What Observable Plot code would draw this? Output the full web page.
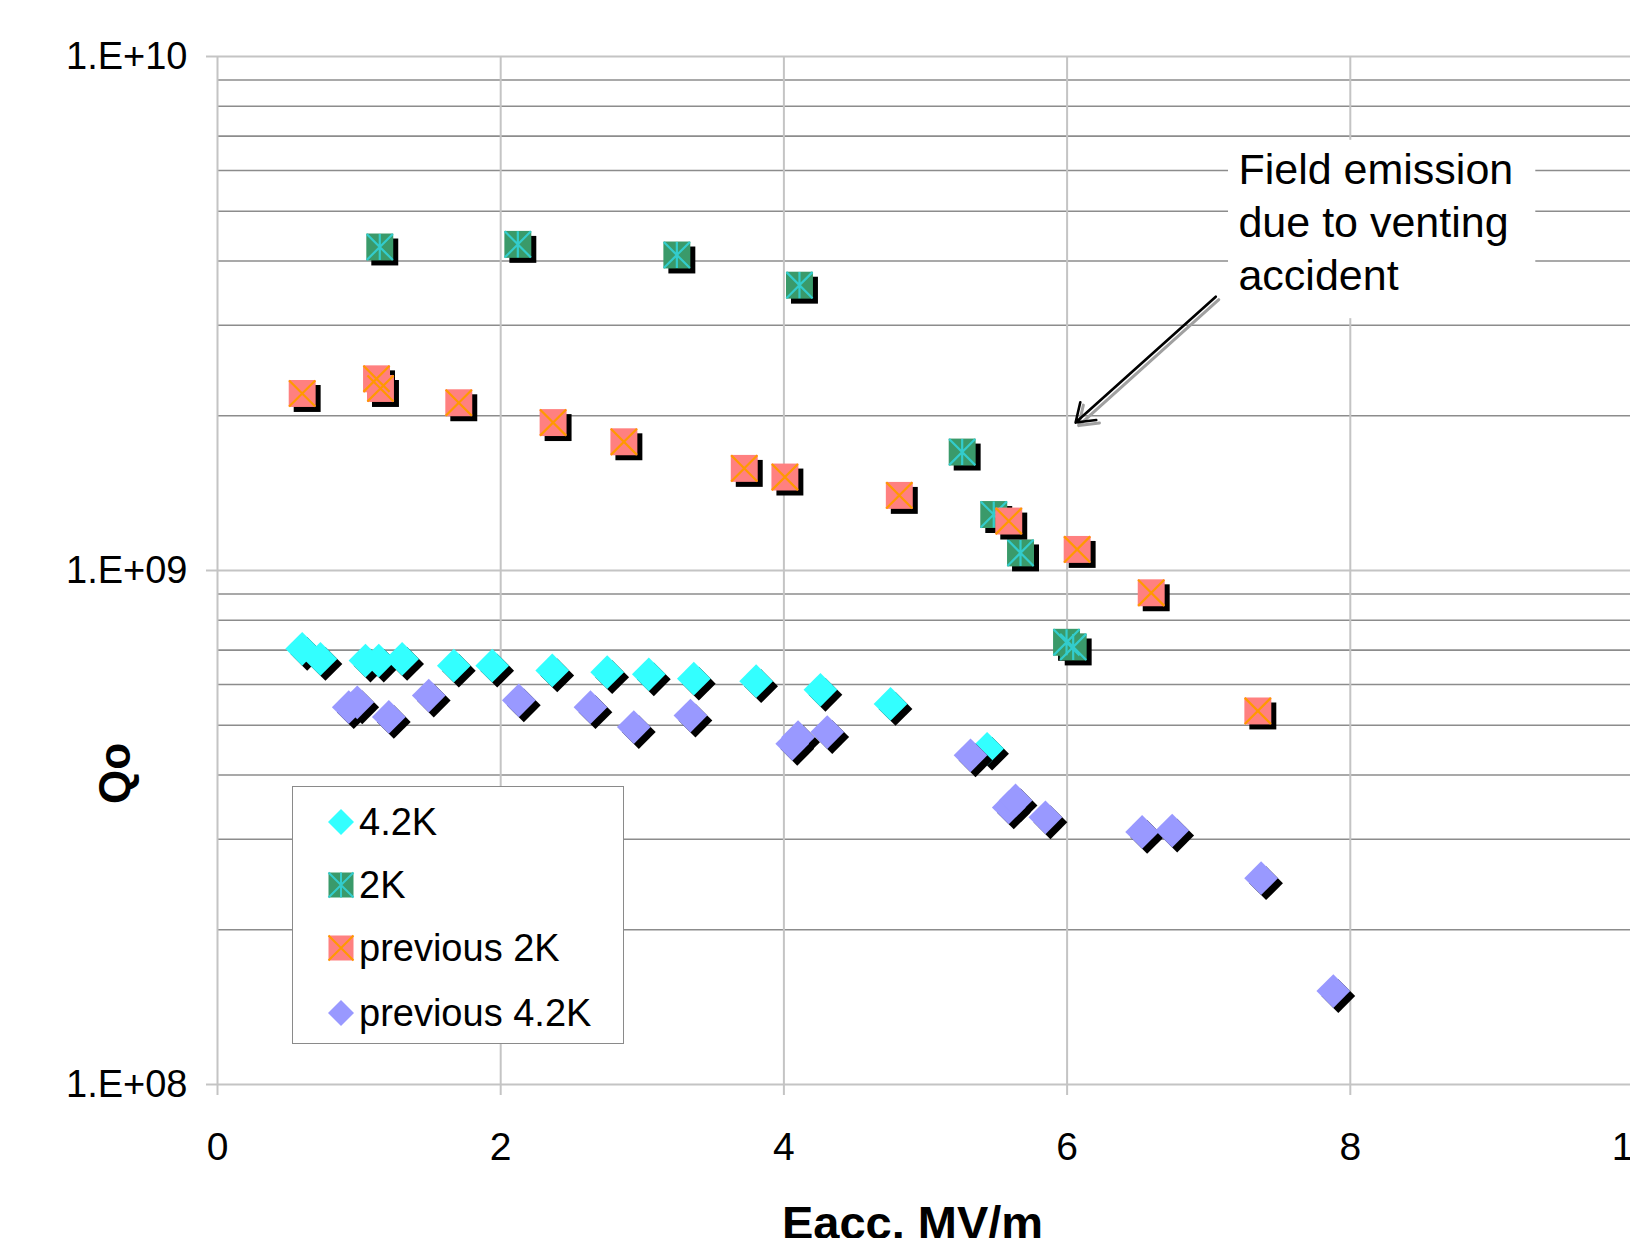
<!DOCTYPE html>
<html>
<head>
<meta charset="utf-8">
<script src="https://cdn.jsdelivr.net/npm/d3@7"></script>
<script src="https://cdn.jsdelivr.net/npm/@observablehq/plot@0.6"></script>
<style>
  html, body { margin: 0; padding: 0; background: white; overflow: hidden; }
  #wrap { position: relative; width: 1630px; height: 1238px; font-family: "Liberation Sans", Arial, sans-serif; }
  #legend { position: absolute; left: 292px; top: 786px; width: 330px; height: 256px; background: white; border: 1.5px solid #8a8a8a; }
  .row { position: absolute; left: 0; height: 40px; display: flex; align-items: center; font-size: 38px; color: #000; }
  .row svg { margin-left: 34px; margin-right: 4px; }
</style>
</head>
<body>
<div id="wrap">
  <div id="chart"></div>
  <div id="legend"></div>
</div>
<script>
// ---- data ----
const seriesNames = ["4.2K", "2K", "previous 2K", "previous 4.2K"];

const x42K = [0.598, 0.727, 1.045, 1.139, 1.304, 1.669, 1.94, 2.364, 2.752, 3.046, 3.364, 3.804, 4.258, 4.753, 5.435];
const q42K = [7.04e8, 6.73e8, 6.68e8, 6.68e8, 6.73e8, 6.53e8, 6.53e8, 6.39e8, 6.34e8, 6.28e8, 6.16e8, 6.09e8, 5.86e8, 5.50e8, 4.50e8];

const x2K = [1.146, 2.121, 3.244, 4.11, 5.259, 5.482, 5.671, 5.996, 6.043];
const q2K = [4.26e9, 4.31e9, 4.11e9, 3.59e9, 1.70e9, 1.285e9, 1.082e9, 7.25e8, 7.10e8];

const xPrev2K = [0.598, 1.123, 1.151, 1.704, 2.37, 2.87, 3.72, 4.007, 4.815, 5.588, 6.071, 6.594, 7.347];
const qPrev2K = [2.21e9, 2.36e9, 2.26e9, 2.12e9, 1.94e9, 1.78e9, 1.58e9, 1.52e9, 1.40e9, 1.248e9, 1.099e9, 9.05e8, 5.33e8];

const xPrev42K = [0.927, 0.987, 1.21, 1.492, 2.128, 2.634, 2.94, 3.34, 4.059, 4.10, 4.306, 5.318, 5.588, 5.636, 5.847, 6.53, 6.742, 7.37, 7.88];
const qPrev42K = [5.42e8, 5.54e8, 5.19e8, 5.71e8, 5.59e8, 5.42e8, 4.96e8, 5.22e8, 4.60e8, 4.74e8, 4.85e8, 4.37e8, 3.46e8, 3.57e8, 3.31e8, 3.10e8, 3.12e8, 2.52e8, 1.52e8];

const xTicks = [0, 2, 4, 6, 8, 10];
const yMajor = [1e8, 1e9, 1e10];
const yMinor = [2e8, 3e8, 4e8, 5e8, 6e8, 7e8, 8e8, 9e8, 2e9, 3e9, 4e9, 5e9, 6e9, 7e9, 8e9, 9e9];

const annoText = ["Field emission\ndue to venting\naccident"];
const annoBox = [{x1: 7.14, x2: 9.31, y1: 3.09e9, y2: 6.87e9}];
const annoTextPos = [{x: 7.21, y: 6.7e9}];
const annoArrow = [{x1: 7.05, y1: 3.41e9, x2: 6.06, y2: 1.94e9}];

// ---- helpers ----
const toRows = (xs, qs) => xs.map((x, i) => ({x, q: qs[i]}));
const d42K = toRows(x42K, q42K);
const d2K = toRows(x2K, q2K);
const dPrev2K = toRows(xPrev2K, qPrev2K);
const dPrev42K = toRows(xPrev42K, qPrev42K);

const symStar = {
  draw(ctx, size) {
    const s = Math.sqrt(size) / 2;
    ctx.moveTo(-s, -s); ctx.lineTo(s, s);
    ctx.moveTo(s, -s); ctx.lineTo(-s, s);
    ctx.moveTo(0, -s); ctx.lineTo(0, s);
  }
};
const symX = {
  draw(ctx, size) {
    const s = Math.sqrt(size) / 2;
    ctx.moveTo(-s, -s); ctx.lineTo(s, s);
    ctx.moveTo(s, -s); ctx.lineTo(-s, s);
  }
};

const C = {
  cyan: "#33ffff", green: "#3a9a6a", greenLine: "#33cccc",
  salmon: "#ff8080", orange: "#ff9900", lavender: "#9999ff"
};
const rD = 15.2, rS = 15.2, off = 5;

function diamondSeries(data, fill) {
  return [
    Plot.dot(data, {x: "x", y: "q", symbol: "diamond2", r: rD, fill: "black", dx: off, dy: off}),
    Plot.dot(data, {x: "x", y: "q", symbol: "diamond2", r: rD, fill})
  ];
}
function squareSeries(data, fill, lineColor, sym) {
  return [
    Plot.dot(data, {x: "x", y: "q", symbol: "square", r: rS, fill: "black", dx: off, dy: off}),
    Plot.dot(data, {x: "x", y: "q", symbol: "square", r: rS, fill}),
    Plot.dot(data, {x: "x", y: "q", symbol: sym, r: rS * 0.97, fill: "none", stroke: lineColor, strokeWidth: 2.2})
  ];
}

const fmtY = d => "1.E+" + String(Math.round(Math.log10(d))).padStart(2, "0");

const chart = Plot.plot({
  width: 1630,
  height: 1238,
  marginLeft: 217,
  marginTop: 56,
  marginBottom: 154,
  marginRight: 0,
  style: {fontFamily: "'Liberation Sans', Arial, sans-serif", background: "white", overflow: "hidden"},
  x: {type: "linear", domain: [0, 10], range: [217, 1633]},
  y: {type: "log", domain: [1e8, 1e10], range: [1084, 56]},
  marks: [
    Plot.ruleY(yMinor, {stroke: "#8c8c8c", strokeWidth: 1.6}),
    Plot.ruleY(yMajor, {stroke: "#c4c4c4", strokeWidth: 2}),
    Plot.ruleX(xTicks, {stroke: "#c4c4c4", strokeWidth: 2}),
    Plot.axisY({ticks: yMajor, tickFormat: fmtY, tickSize: 11, tickPadding: 19, fontSize: 38, stroke: "#c4c4c4", strokeWidth: 2, fill: "black", label: null}),
    Plot.axisX({ticks: xTicks, tickFormat: d => String(d), tickSize: 11, tickPadding: 37, fontSize: 39, stroke: "#c4c4c4", strokeWidth: 2, fill: "black", label: null}),
    // annotation box, text and arrow
    Plot.rect(annoBox, {x1: "x1", x2: "x2", y1: "y1", y2: "y2", fill: "white"}),
    Plot.text(annoTextPos, {x: "x", y: "y", text: () => annoText[0], textAnchor: "start", lineAnchor: "top", lineHeight: 1.24, fontSize: 43, fill: "black"}),
    Plot.arrow(annoArrow, {x1: "x1", y1: "y1", x2: "x2", y2: "y2", stroke: "#a0a0a0", strokeWidth: 3, headLength: 10.5, headAngle: 70, dx: 3, dy: 3}),
    Plot.arrow(annoArrow, {x1: "x1", y1: "y1", x2: "x2", y2: "y2", stroke: "black", strokeWidth: 2.6, headLength: 12, headAngle: 70}),
    // series in legend order
    ...diamondSeries(d42K, C.cyan),
    ...squareSeries(d2K, C.green, C.greenLine, symStar),
    ...squareSeries(dPrev2K, C.salmon, C.orange, symX),
    ...diamondSeries(dPrev42K, C.lavender),
    // axis titles
    Plot.text(["Qo"], {frameAnchor: "top-left", dx: -102, dy: 717, rotate: -90, textAnchor: "middle", lineAnchor: "middle", fontSize: 44, fontWeight: "bold", fill: "black"}),
    Plot.text(["Eacc. MV/m"], {frameAnchor: "top-left", dx: 695, dy: 1167, textAnchor: "middle", lineAnchor: "middle", fontSize: 47, fontWeight: "bold", fill: "black"})
  ]
});
document.getElementById("chart").appendChild(chart);

// ---- legend (HTML overlay) ----
const legendItems = [
  {name: seriesNames[0], kind: "diamond", fill: C.cyan},
  {name: seriesNames[1], kind: "square", fill: C.green, line: C.greenLine, star: true},
  {name: seriesNames[2], kind: "square", fill: C.salmon, line: C.orange, star: false},
  {name: seriesNames[3], kind: "diamond", fill: C.lavender}
];
const rowTops = [15, 78, 141, 206];
const legend = document.getElementById("legend");
legendItems.forEach((it, i) => {
  const row = document.createElement("div");
  row.className = "row";
  row.style.top = rowTops[i] + "px";
  let sw;
  if (it.kind === "diamond") {
    sw = `<svg width="28" height="28" viewBox="-14 -14 28 28"><path d="M0,-13L13,0L0,13L-13,0Z" fill="${it.fill}"/></svg>`;
  } else {
    const s = 12.5;
    const lines = `M${-s},${-s}L${s},${s}M${s},${-s}L${-s},${s}` + (it.star ? `M0,${-s}L0,${s}` : "");
    sw = `<svg width="28" height="28" viewBox="-14 -14 28 28"><rect x="${-s}" y="${-s}" width="${2*s}" height="${2*s}" fill="${it.fill}"/><path d="${lines}" stroke="${it.line}" stroke-width="2" fill="none"/></svg>`;
  }
  row.innerHTML = sw + `<span>${it.name}</span>`;
  legend.appendChild(row);
});
</script>
</body>
</html>
